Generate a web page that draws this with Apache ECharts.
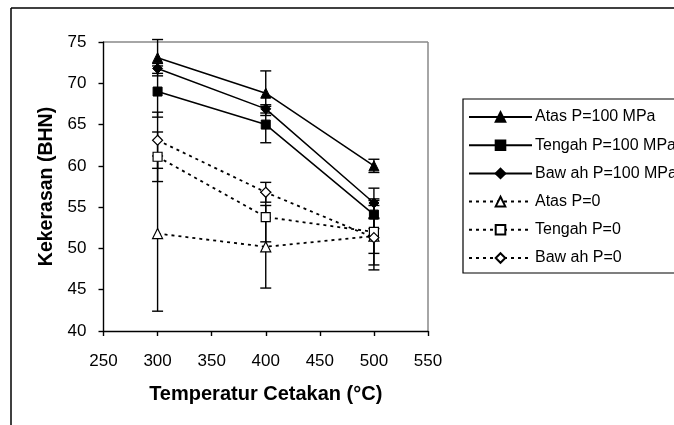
<!DOCTYPE html>
<html>
<head>
<meta charset="utf-8">
<script src="https://cdn.jsdelivr.net/npm/echarts@6/dist/echarts.min.js"></script>
<style>
html, body { margin: 0; padding: 0; background: #fff; }
#chart { width: 674px; height: 425px; }
</style>
</head>
<body>
<div id="chart"></div>
<script>
// Temperatur Cetakan (°C)
const temps = [300, 400, 500]
const xTicks = [250, 300, 350, 400, 450, 500, 550]
const yTicks = [40, 45, 50, 55, 60, 65, 70, 75]

// Kekerasan (BHN) and error half-widths
const atas100 = [73.1, 68.8, 60.0]
const tengah100 = [69.0, 65.0, 54.1]
const bawah100 = [71.8, 66.9, 55.5]
const atas0 = [51.8, 50.2, 51.5]
const tengah0 = [61.1, 53.8, 52.0]
const bawah0 = [63.1, 56.8, 51.3]

const atas100Err = [2.2, 2.7, 0.8]
const tengah100Err = [3.1, 2.2, 1.7]
const bawah100Err = [0.6, 0.5, 1.8]
const atas0Err = [9.4, 5.0, 2.1]
const tengah0Err = [3.0, 3.0, 4.0]
const bawah0Err = [3.4, 1.2, 3.9]

const seriesDefs = [
  { name: 'Atas P=100 MPa', data: atas100, err: atas100Err, symbol: 'triangle', size: 10, solid: true },
  { name: 'Tengah P=100 MPa', data: tengah100, err: tengah100Err, symbol: 'rect', size: 9, solid: true },
  { name: 'Baw ah P=100 MPa', data: bawah100, err: bawah100Err, symbol: 'diamond', size: 10, solid: true },
  { name: 'Atas P=0', data: atas0, err: atas0Err, symbol: 'triangle', size: 10, solid: false },
  { name: 'Tengah P=0', data: tengah0, err: tengah0Err, symbol: 'rect', size: 9, solid: false },
  { name: 'Baw ah P=0', data: bawah0, err: bawah0Err, symbol: 'diamond', size: 10, solid: false },
]

const chart = echarts.init(document.getElementById('chart'))

function errorBars(s) {
  return {
    type: 'custom',
    z: 1,
    silent: true,
    data: temps.map((t, i) => [t, s.data[i] - s.err[i], s.data[i] + s.err[i]]),
    renderItem(params, api) {
      const lo = api.coord([api.value(0), api.value(1)])
      const hi = api.coord([api.value(0), api.value(2)])
      const w = 5.5
      const style = { stroke: '#000', lineWidth: 1.4 }
      return {
        type: 'group',
        children: [
          { type: 'line', shape: { x1: lo[0], y1: lo[1], x2: hi[0], y2: hi[1] }, style },
          { type: 'line', shape: { x1: lo[0] - w, y1: lo[1], x2: lo[0] + w, y2: lo[1] }, style },
          { type: 'line', shape: { x1: hi[0] - w, y1: hi[1], x2: hi[0] + w, y2: hi[1] }, style },
        ],
      }
    },
  }
}

const lineSeries = seriesDefs.map(s => ({
  name: s.name,
  type: 'line',
  z: 3,
  data: temps.map((t, i) => [t, s.data[i]]),
  symbol: s.symbol,
  symbolSize: s.size,
  showAllSymbol: true,
  lineStyle: s.solid
    ? { color: '#000', width: 1.5, type: 'solid' }
    : { color: '#000', width: 1.8, type: [3, 4] },
  itemStyle: s.solid
    ? { color: '#000', borderColor: '#000', borderWidth: 1 }
    : { color: '#fff', borderColor: '#000', borderWidth: 1.2 },
  emphasis: { disabled: true },
}))

const option = {
  animation: false,
  backgroundColor: '#fff',
  textStyle: { fontFamily: 'Liberation Sans, Arial, sans-serif' },
  grid: { left: 103.5, right: 246, top: 42, bottom: 94 },
  xAxis: {
    type: 'value',
    min: xTicks[0],
    max: xTicks[xTicks.length - 1],
    interval: 50,
    name: 'Temperatur Cetakan (°C)',
    nameLocation: 'middle',
    nameGap: 53,
    nameTextStyle: { color: '#000', fontSize: 20, fontWeight: 'bold' },
    axisLine: { show: true, lineStyle: { color: '#000', width: 1.4 } },
    axisTick: { show: true, length: 5, lineStyle: { color: '#000', width: 1.4 } },
    axisLabel: { color: '#000', fontSize: 17, margin: 22 },
    splitLine: { show: false },
  },
  yAxis: {
    type: 'value',
    min: yTicks[0],
    max: yTicks[yTicks.length - 1],
    interval: 5,
    name: 'Kekerasan (BHN)',
    nameLocation: 'middle',
    nameGap: 47,
    nameTextStyle: { color: '#000', fontSize: 19.5, fontWeight: 'bold' },
    axisLine: { show: true, lineStyle: { color: '#000', width: 1.4 } },
    axisTick: { show: true, length: 5, lineStyle: { color: '#000', width: 1.4 } },
    axisLabel: { color: '#000', fontSize: 17, margin: 17 },
    splitLine: { show: false },
  },
  legend: {
    data: seriesDefs.map(s => s.name),
    orient: 'vertical',
    left: 463,
    top: 99,
    padding: [10, 10, 7, 5],
    itemWidth: 63,
    itemHeight: 12,
    itemGap: 12.2,
    borderColor: '#000',
    borderWidth: 1.2,
    textStyle: { color: '#000', fontSize: 16, padding: [0, 0, 0, -2] },
    selectedMode: false,
  },
  graphic: [
    { type: 'line', shape: { x1: 11, y1: 8, x2: 674, y2: 8 }, style: { stroke: '#000', lineWidth: 1.5 } },
    { type: 'line', shape: { x1: 11, y1: 8, x2: 11, y2: 425 }, style: { stroke: '#000', lineWidth: 1.5 } },
    { type: 'line', shape: { x1: 104, y1: 42, x2: 428, y2: 42 }, style: { stroke: '#888', lineWidth: 1.5 } },
    { type: 'line', shape: { x1: 428, y1: 42, x2: 428, y2: 331 }, style: { stroke: '#888', lineWidth: 1.5 } },
  ],
  series: [...seriesDefs.map(errorBars), ...lineSeries],
}

chart.setOption(option)
</script>
</body>
</html>
